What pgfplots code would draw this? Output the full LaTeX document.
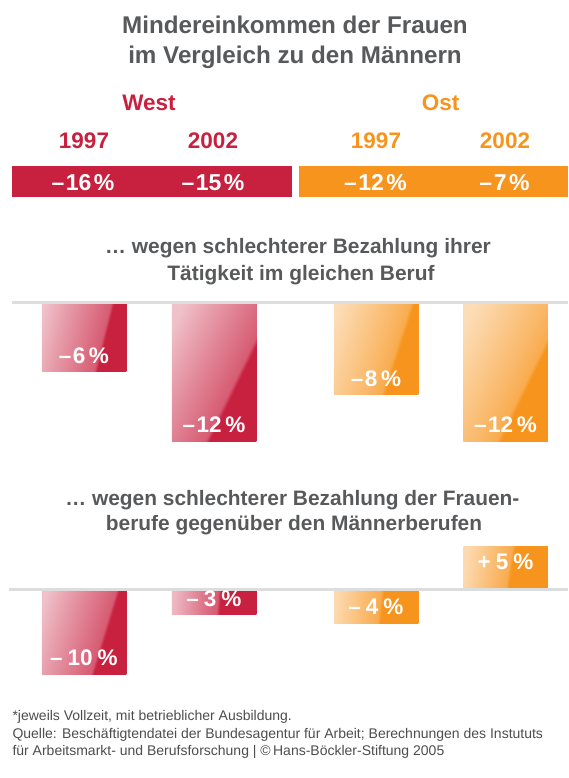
\documentclass[border=0pt]{standalone}
\usepackage{fontspec}
\setmainfont{Liberation Sans}
\usepackage{pgfplots}
\pgfplotsset{compat=1.18}

\definecolor{hbsred}{HTML}{C8203F}
\definecolor{hbsorange}{HTML}{F7941D}
\definecolor{titlegray}{HTML}{58595B}
\definecolor{footgray}{HTML}{4D4D4F}
\definecolor{basegray}{HTML}{DCDDDE}

% light, hatched-looking left part, solid colour in the lower right corner
% (tall bars: edge near the right; short bars: edge nearer the middle)
\pgfdeclarehorizontalshading{redtall}{100bp}{color(0bp)=(hbsred!25); color(22bp)=(hbsred!28);
  color(36bp)=(hbsred!45); color(52bp)=(hbsred!63); color(61bp)=(hbsred!73); color(63bp)=(hbsred); color(100bp)=(hbsred)}
\pgfdeclarehorizontalshading{redshort}{100bp}{color(0bp)=(hbsred!25); color(25bp)=(hbsred!32);
  color(44bp)=(hbsred!63); color(52bp)=(hbsred!73); color(54bp)=(hbsred); color(100bp)=(hbsred)}
\pgfdeclarehorizontalshading{orangetall}{100bp}{color(0bp)=(hbsorange!28); color(22bp)=(hbsorange!32);
  color(36bp)=(hbsorange!48); color(52bp)=(hbsorange!66); color(61bp)=(hbsorange!78); color(63bp)=(hbsorange); color(100bp)=(hbsorange)}
\pgfdeclarehorizontalshading{orangeshort}{100bp}{color(0bp)=(hbsorange!28); color(25bp)=(hbsorange!36);
  color(44bp)=(hbsorange!66); color(52bp)=(hbsorange!78); color(54bp)=(hbsorange); color(100bp)=(hbsorange)}

\pgfplotsset{
  barpanel/.style={
    hide axis, x=1pt, xmin=0, xmax=568,
    ybar, bar width=84.5, bar shift=0pt,
    clip=false, point meta=explicit symbolic,
    nodes near coords,
    every node near coord/.append style={anchor=center, text=white,
      font=\fontsize{22.5}{26}\selectfont\bfseries},
  },
  shadedbar/.style 2 args={draw=none, shade, shading=#1, shading angle=#2},
  neglabel/.style={every node near coord/.append style={yshift=16pt}},
  poslabel/.style={every node near coord/.append style={yshift=-15pt}},
}
\newcommand{\mn}{–\kern1.5pt}

\begin{document}
\begin{tikzpicture}
\path[use as bounding box] (0pt,0pt) rectangle (568pt,-778pt);

\begin{scope}[x=1pt, y=1pt]
  \node[anchor=base, text=titlegray, font=\fontsize{24.2}{28}\selectfont\bfseries]
    at (295,-34) {Mindereinkommen der Frauen};
  \node[anchor=base, text=titlegray, font=\fontsize{24.2}{28}\selectfont\bfseries]
    at (295,-63.5) {im Vergleich zu den Männern};

  \node[anchor=base, text=hbsred, font=\fontsize{22.5}{26}\selectfont\bfseries] at (149,-110.7) {West};
  \node[anchor=base, text=hbsorange, font=\fontsize{22.5}{26}\selectfont\bfseries] at (440.5,-110.7) {Ost};
  \foreach \xx/\yr/\cc in {84/1997/hbsred, 213/2002/hbsred, 376/1997/hbsorange, 505/2002/hbsorange}
    \node[anchor=base, text=\cc, font=\fontsize{22.5}{26}\selectfont\bfseries] at (\xx,-148.3) {\yr};

  \fill[hbsred] (12,-166) rectangle (292,-197);
  \fill[hbsorange] (299,-166) rectangle (568,-197);
  \foreach \xx/\lab in {83/\mn16\kern2.5pt\%, 213/\mn15\kern2.5pt\%, 375.5/\mn12\kern2.5pt\%, 504.5/\mn7\kern2.5pt\%}
    \node[anchor=base, text=white, font=\fontsize{23}{26}\selectfont\bfseries] at (\xx,-190) {\lab};

  \node[anchor=base, text=titlegray, font=\fontsize{20.9}{24}\selectfont\bfseries]
    at (298,-253.3) {… wegen schlechterer Bezahlung ihrer};
  \node[anchor=base, text=titlegray, font=\fontsize{20.9}{24}\selectfont\bfseries]
    at (301,-280) {Tätigkeit im gleichen Beruf};

  \node[anchor=base, text=titlegray, font=\fontsize{20.9}{24}\selectfont\bfseries]
    at (292.4,-505) {… wegen schlechterer Bezahlung der Frauen-};
  \node[anchor=base, text=titlegray, font=\fontsize{20.9}{24}\selectfont\bfseries]
    at (294,-530) {berufe gegenüber den Männerberufen};

  \node[anchor=base west, text=footgray, font=\fontsize{14}{16}\selectfont]
    at (9,-720.5) {*jeweils Vollzeit, mit betrieblicher Ausbildung.};
  \node[anchor=base west, text=footgray, font=\fontsize{14}{16}\selectfont]
    at (9,-738.3) {Quelle: Beschäftigtendatei der Bundesagentur für Arbeit; Berechnungen des Instututs};
  \node[anchor=base west, text=footgray, font=\fontsize{14}{16}\selectfont]
    at (9,-755.7) {für Arbeitsmarkt- und Berufsforschung | ©\,Hans-Böckler-Stiftung 2005};
\end{scope}

% ... wegen schlechterer Bezahlung ihrer Taetigkeit im gleichen Beruf
% x = bar centre in the layout (West 1997, West 2002, Ost 1997, Ost 2002)
% one \addplot per bar, so that each bar gets its own shading
\begin{axis}[barpanel, y=11.6pt, ymin=-13, ymax=0,
  at={(0pt,-302pt)}, anchor=north west]
\addplot[shadedbar={redtall}{-14}, neglabel] coordinates {(84,-6) [\mn6\kern3.5pt\%]};
\addplot[shadedbar={redtall}{-26}, neglabel] coordinates {(214,-12) [\mn12\kern3.5pt\%]};
\addplot[shadedbar={orangetall}{-18}, neglabel] coordinates {(376,-8) [\mn8\kern3.5pt\%]};
\addplot[shadedbar={orangetall}{-26}, neglabel] coordinates {(505.5,-12) [\mn12\kern3.5pt\%]};
\draw[basegray, line width=3pt] (axis cs:12,0) -- (axis cs:568,0);
\end{axis}

% ... wegen schlechterer Bezahlung der Frauenberufe
\begin{axis}[barpanel, y=8.5pt, ymin=-11, ymax=6,
  at={(0pt,-538pt)}, anchor=north west]
\addplot[shadedbar={redtall}{-17}, neglabel] coordinates {(84,-10) [–\kern5pt 10\kern5pt\%]};
\addplot[shadedbar={redshort}{-5}, neglabel] coordinates {(214,-3) [–\kern5pt 3\kern5pt\%]};
\addplot[shadedbar={orangeshort}{-7}, neglabel] coordinates {(376,-4) [–\kern5pt 4\kern5pt\%]};
\addplot[shadedbar={orangeshort}{-9}, poslabel] coordinates {(505.5,5) [+\kern5pt 5\kern5pt\%]};
\draw[basegray, line width=3pt] (axis cs:9,0) -- (axis cs:568,0);
\end{axis}
\end{tikzpicture}
\end{document}
